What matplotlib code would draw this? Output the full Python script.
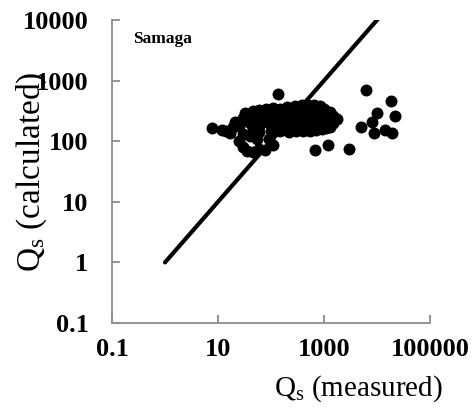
import matplotlib
matplotlib.use("Agg")
import matplotlib.pyplot as plt

plt.rcParams["font.family"] = ["Liberation Serif", "DejaVu Serif"]
plt.rcParams["mathtext.fontset"] = "custom"
plt.rcParams["mathtext.rm"] = "Liberation Serif"
plt.rcParams["mathtext.it"] = "Liberation Serif:italic"

# Sediment discharge: measured vs calculated (Samaga formula)
qs_measured = [
    7.7, 11.9, 16.8, 21, 14, 19,
    32, 45, 60, 80, 110, 150, 200, 280, 380, 500, 650, 850, 1000, 1300,
    1500, 1760, 1500, 1300,
    100, 150, 220, 300, 400, 550, 700, 900, 1100,
    25, 30, 35, 46, 60, 77, 108, 40, 55, 90, 30,
    25, 30, 40, 50, 60, 70, 80, 90, 100, 120, 130, 150, 170, 190, 220,
    250, 270, 300, 350, 400, 450, 500, 600, 700, 800, 900, 1000, 1200,
    1100, 600, 400, 250, 180, 120, 60, 45,
    135, 680, 1190, 2980,
    6190, 18300, 21700, 10000, 8050, 4980, 8750, 14000, 19100,
]
qs_calculated = [
    165, 153, 137, 207, 150, 170,
    292, 320, 330, 340, 350, 340, 360, 380, 390, 400, 390, 380, 340, 300,
    260, 232, 200, 170,
    150, 145, 140, 150, 145, 150, 155, 160, 165,
    100, 80, 70, 66, 75, 72, 86, 120, 110, 110, 130,
    180, 240, 200, 250, 180, 220, 270, 200, 240, 280, 190, 230, 300, 200, 260,
    310, 180, 230, 280, 200, 250, 320, 220, 280, 200, 250, 230, 220,
    190, 170, 170, 190, 160, 170, 140, 160,
    590, 72, 86, 74,
    700, 460, 260, 290, 207, 172, 137, 153, 137,
]

# Line of perfect agreement
line_x = [1, 100000]
line_y = [1, 100000]

x_ticks = [0.1, 10, 1000, 100000]
x_labels = ["0.1", "10", "1000", "100000"]
y_ticks = [0.1, 1, 10, 100, 1000, 10000]
y_labels = ["0.1", "1", "10", "100", "1000", "10000"]

fig = plt.figure(figsize=(4.72, 4.09), dpi=100)
ax = fig.add_axes([112 / 472, 1 - 323 / 409, 318 / 472, 303 / 409])

ax.plot(line_x, line_y, color="black", lw=3, solid_capstyle="round", zorder=2)
ax.plot(qs_measured, qs_calculated, "o", color="black", ms=8.6,
        markeredgewidth=0, zorder=3)

ax.set_xscale("log")
ax.set_yscale("log")
ax.set_xlim(0.1, 100000)
ax.set_ylim(0.1, 10000)

ax.set_xticks(x_ticks)
ax.set_xticklabels(x_labels)
ax.set_yticks(y_ticks)
ax.set_yticklabels(y_labels)
ax.minorticks_off()

for side in ("top", "right"):
    ax.spines[side].set_visible(False)
for side in ("left", "bottom"):
    ax.spines[side].set_color("#8c8c8c")
    ax.spines[side].set_linewidth(1.3)

ax.tick_params(axis="both", direction="in", length=6, width=1.3,
               color="#8c8c8c", labelsize=19)
ax.tick_params(axis="x", pad=11)
ax.tick_params(axis="y", pad=17)
for lbl in ax.get_xticklabels() + ax.get_yticklabels():
    lbl.set_fontweight("bold")

ax.set_xlabel(r"Q$_\mathrm{s}$ (measured)", fontsize=21)
ax.xaxis.set_label_coords(0.774, -0.165)
ax.set_ylabel(r"Q$_\mathrm{s}$ (calculated)", fontsize=24)
ax.yaxis.set_label_coords(-0.197, 0.5)

ax.text(133 / 472, 1 - 43 / 409, "Samaga", transform=fig.transFigure,
        fontsize=12.5, fontweight="bold", ha="left", va="baseline")

fig.savefig("out.png", dpi=100)
